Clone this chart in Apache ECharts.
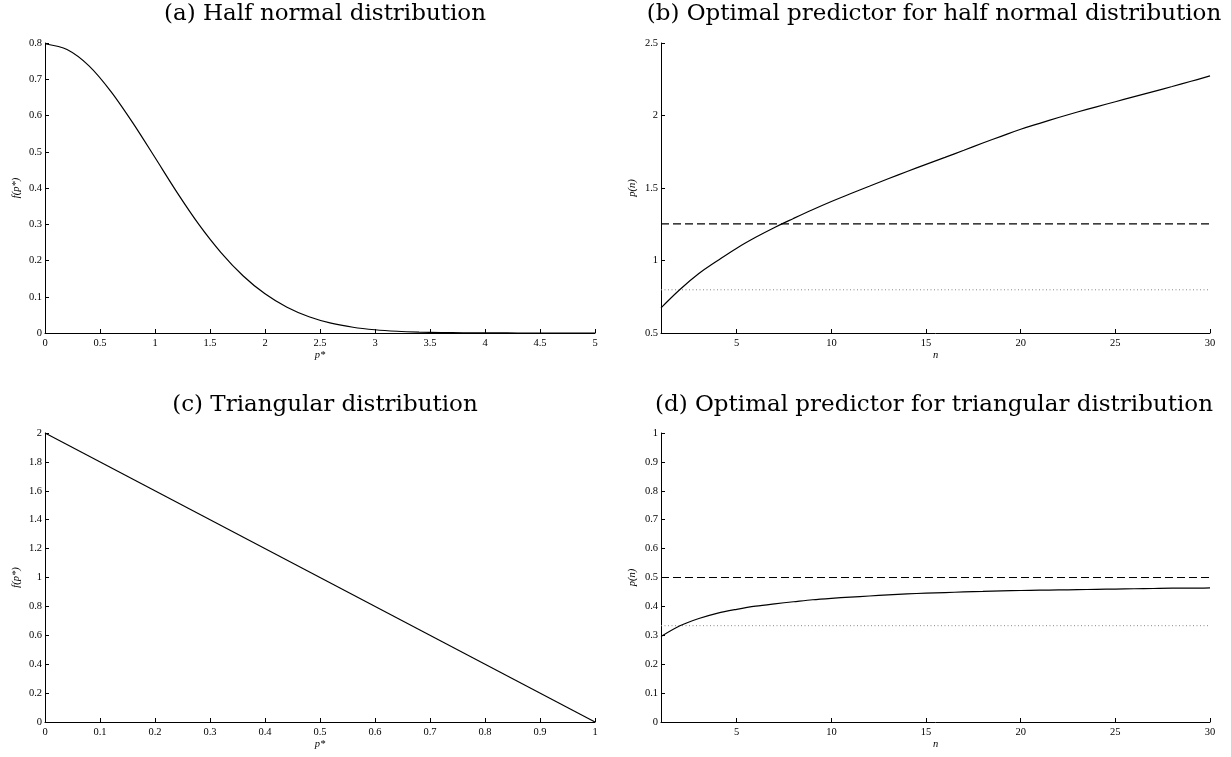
<!DOCTYPE html>
<html>
<head>
<meta charset="utf-8">
<script src="https://cdn.jsdelivr.net/npm/echarts@6/dist/echarts.min.js"></script>
<style>html,body{margin:0;padding:0;background:#fff}#c{width:1231px;height:757px}</style>
</head>
<body>
<div id="c"></div>
<script>
// (a) half normal density, read at p* = 0, 0.2, ..., 5
var halfNormalX = [0,0.2,0.4,0.6,0.8,1.0,1.2,1.4,1.6,1.8,2.0,2.2,2.4,2.6,2.8,3.0,3.2,3.4,3.6,3.8,4.0,4.2,4.4,4.6,4.8,5.0];
var halfNormalY = [0.798,0.782,0.737,0.666,0.579,0.484,0.388,0.299,0.222,0.158,0.108,0.071,0.0448,0.0271,0.0158,0.0089,0.0048,0.0025,0.0012,0.0006,0.0003,0.0001,0,0,0,0];
// (b) optimal predictor for half normal, n = 1..30
var nValues = [1,2,3,4,5,6,7,8,9,10,11,12,13,14,15,16,17,18,19,20,21,22,23,24,25,26,27,28,29,30];
var halfNormalPred = [0.673,0.80,0.91,1.00,1.085,1.16,1.228,1.29,1.35,1.407,1.46,1.512,1.564,1.614,1.663,1.711,1.76,1.81,1.858,1.905,1.946,1.986,2.024,2.06,2.095,2.13,2.165,2.20,2.236,2.273];
var halfNormalDashed = 1.253;
var halfNormalDotted = 0.798;
// (c) triangular density
var triX = [0,1];
var triY = [2,0];
// (d) optimal predictor for triangular, n = 1..30
var triPred = [0.296,0.333,0.358,0.377,0.390,0.401,0.409,0.416,0.423,0.428,0.432,0.436,0.440,0.443,0.446,0.448,0.450,0.452,0.454,0.455,0.456,0.457,0.458,0.459,0.460,0.461,0.462,0.463,0.463,0.464];
var triDashed = 0.5;
var triDotted = 0.3333;
var nTicks = [5,10,15,20,25,30];

function zip(xs, ys){ return xs.map(function(x,i){ return [x, ys[i]]; }); }
function constLine(xs, v){ return [[xs[0], v],[xs[xs.length-1], v]]; }

var tickFont = {fontFamily:'Liberation Serif', fontSize:10.5, color:'#000'};
var nameFont = {fontFamily:'Liberation Serif', fontSize:10.5, fontStyle:'italic', color:'#000'};
var titleFont = {fontFamily:'DejaVu Serif', fontSize:23, fontWeight:'normal', color:'#000'};

function xAx(idx, min, max, interval, name, custom){
  var a = {
    type:'value', gridIndex:idx, min:min, max:max,
    name:name, nameLocation:'middle', nameGap:17, nameTextStyle:nameFont,
    axisLine:{show:true, onZero:false, lineStyle:{color:'#000', width:1}},
    axisTick:{show:true, inside:true, length:4, lineStyle:{color:'#000'}},
    axisLabel:Object.assign({margin:5, showMinLabel:true, showMaxLabel:true}, tickFont),
    splitLine:{show:false}
  };
  if (custom) {
    a.axisLabel.customValues = custom;
    a.axisTick.customValues = custom;
  } else {
    a.interval = interval;
  }
  return a;
}
function yAx(idx, min, max, interval, name){
  return {
    type:'value', gridIndex:idx, min:min, max:max, interval:interval,
    name:name, nameLocation:'middle', nameGap:23, nameRotate:90, nameTextStyle:nameFont,
    axisLine:{show:true, onZero:false, lineStyle:{color:'#000', width:1}},
    axisTick:{show:true, inside:true, length:4, lineStyle:{color:'#000'}},
    axisLabel:Object.assign({margin:3}, tickFont),
    splitLine:{show:false}
  };
}
function line(idx, data, style, smooth){
  return {type:'line', xAxisIndex:idx, yAxisIndex:idx, data:data, showSymbol:false, symbol:'none',
    smooth:smooth||false, lineStyle:style, silent:true, animation:false};
}
var solid = {color:'#000', width:1.2};
var dashed = {color:'#000', width:1.2, type:[8,4]};
var dotted = {color:'#888', width:1, type:[1,2.5]};

var option = {
  animation:false,
  backgroundColor:'#fff',
  title:[
    {text:'(a) Half normal distribution', left:320, top:-2, textAlign:'center', textStyle:titleFont},
    {text:'(b) Optimal predictor for half normal distribution', left:929, top:-2, textAlign:'center', textStyle:titleFont},
    {text:'(c) Triangular distribution', left:320, top:389, textAlign:'center', textStyle:titleFont},
    {text:'(d) Optimal predictor for triangular distribution', left:929, top:389, textAlign:'center', textStyle:titleFont}
  ],
  grid:[
    {left:45, top:43, width:550, height:290},
    {left:661, top:43, width:549, height:290},
    {left:45, top:433, width:550, height:289},
    {left:661, top:433, width:549, height:289}
  ],
  xAxis:[
    xAx(0, 0, 5, 0.5, 'p*'),
    xAx(1, 1, 30, null, 'n', nTicks),
    xAx(2, 0, 1, 0.1, 'p*'),
    xAx(3, 1, 30, null, 'n', nTicks)
  ],
  yAxis:[
    yAx(0, 0, 0.8, 0.1, 'f(p*)'),
    yAx(1, 0.5, 2.5, 0.5, 'p(n)'),
    yAx(2, 0, 2, 0.2, 'f(p*)'),
    yAx(3, 0, 1, 0.1, 'p(n)')
  ],
  series:[
    line(0, zip(halfNormalX, halfNormalY), solid, 0.3),
    line(1, constLine(nValues, halfNormalDotted), dotted),
    line(1, constLine(nValues, halfNormalDashed), dashed),
    line(1, zip(nValues, halfNormalPred), solid, 0.4),
    line(2, zip(triX, triY), solid),
    line(3, constLine(nValues, triDotted), dotted),
    line(3, constLine(nValues, triDashed), dashed),
    line(3, zip(nValues, triPred), solid, 0.3)
  ]
};
var chart = echarts.init(document.getElementById('c'), null, {renderer:'canvas'});
chart.setOption(option);
</script>
</body>
</html>
